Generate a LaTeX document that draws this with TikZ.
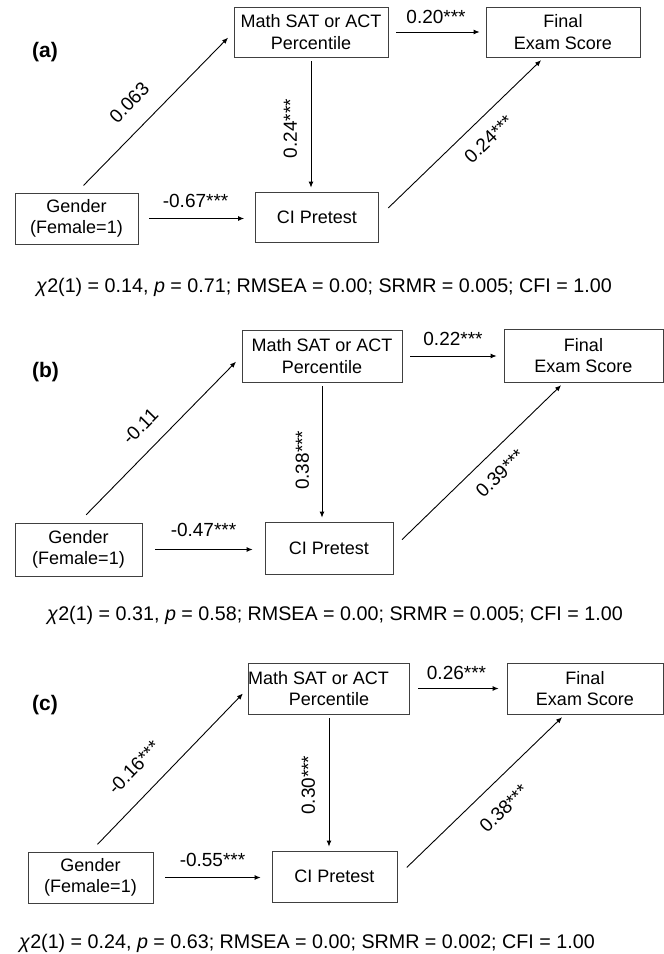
\documentclass[tikz,border=0pt]{standalone}
\usepackage{fontspec}
\setmainfont{Liberation Sans}
\usepackage{tikz}
\usetikzlibrary{arrows.meta,calc}

\begin{document}
\begin{tikzpicture}[
    x=1pt, y=-1pt,
    every node/.style={font=\fontsize{18}{21.6}\selectfont},
    var/.style={draw=black!75, line width=0.8pt, align=center, inner sep=0pt},
    link/.style={-{Latex[length=6pt,width=5pt]}, line width=0.9pt},
    coef/.style={inner sep=2pt, font=\fontsize{19}{22}\selectfont},
    panel/.style={font=\fontsize{21}{25}\selectfont\bfseries},
    fit/.style={font=\fontsize{19.7}{23}\selectfont},
]
    \useasboundingbox[fill=white] (0,0) rectangle (664,954);

    % Panel (a)
    \node[panel] (labA) at (45,52) {(a)};
    \node[var, minimum width=154pt, minimum height=50pt] (mathA) at (311,32) {Math SAT or ACT\\Percentile};
    \node[var, minimum width=154pt, minimum height=50pt] (finalA) at (563,32) {Final\\Exam Score};
    \node[var, minimum width=123pt, minimum height=51pt] (genderA) at (76.5,218.5) {Gender\\(Female=1)};
    \node[var, minimum width=123pt, minimum height=50pt] (pretestA) at (317,217) {CI Pretest};
    \node[fit] (fitA) at (324,287) {\textit{χ}2(1) = 0.14, \textit{p} = 0.71; RMSEA = 0.00; SRMR = 0.005; CFI = 1.00};

    \draw[link, shorten <=10pt, shorten >=8pt] (genderA.north) -- node[coef, sloped, above=16pt, pos=.45] {0.063} (mathA.west);
    \draw[link, shorten <=4pt, shorten >=4pt] (mathA.south) -- node[coef, rotate=90, anchor=south, outer ysep=12pt, pos=.53] {0.24***} (mathA.south |- pretestA.north);
    \draw[link, shorten <=8pt, shorten >=6pt] (mathA.east) -- node[coef, above=6pt, pos=.49] {0.20***} (finalA.west);
    \draw[link, shorten <=11pt, shorten >=11pt] (genderA.east) -- node[coef, above=8.5pt, pos=.49] {-0.67***} (genderA.east -| pretestA.west);
    \draw[link, shorten <=13pt, shorten >=4pt] (pretestA.east) -- node[coef, sloped, below=11pt, pos=.58] {0.24***} ($(finalA.south)+(-19,0)$);

    % Panel (b)
    \node[panel] (labB) at (45.5,372) {(b)};
    \node[var, minimum width=160pt, minimum height=52pt] (mathB) at (322,356) {Math SAT or ACT\\Percentile};
    \node[var, minimum width=159pt, minimum height=53pt] (finalB) at (583.5,355.5) {Final\\Exam Score};
    \node[var, minimum width=127pt, minimum height=53pt] (genderB) at (78.5,549.5) {Gender\\(Female=1)};
    \node[var, minimum width=128pt, minimum height=52pt] (pretestB) at (329,548) {CI Pretest};
    \node[fit] (fitB) at (335,615) {\textit{χ}2(1) = 0.31, \textit{p} = 0.58; RMSEA = 0.00; SRMR = 0.005; CFI = 1.00};

    \draw[link, shorten <=11pt, shorten >=8pt] (genderB.north) -- node[coef, sloped, above=14pt, pos=.48] {-0.11} (mathB.west);
    \draw[link, shorten <=4pt, shorten >=4pt] (mathB.south) -- node[coef, rotate=90, anchor=south, outer ysep=11pt, pos=.56] {0.38***} (mathB.south |- pretestB.north);
    \draw[link, shorten <=8pt, shorten >=7pt] (mathB.east) -- node[coef, above=8pt, pos=.5] {0.22***} (mathB.east -| finalB.west);
    \draw[link, shorten <=13pt, shorten >=12pt] (genderB.east) -- node[coef, above=10.5pt, pos=.5] {-0.47***} (genderB.east -| pretestB.west);
    \draw[link, shorten <=12pt, shorten >=4pt] (pretestB.east) -- node[coef, sloped, below=11.5pt, pos=.54] {0.39***} ($(finalB.south)+(-19.5,0)$);

    % Panel (c)
    \node[panel] (labC) at (45,705) {(c)};
    \node[var, minimum width=156pt, minimum height=51pt] (mathC) at (329,688.5) {Math SAT or ACT\hspace*{21pt}\\Percentile};
    \node[var, minimum width=156pt, minimum height=51pt] (finalC) at (585,688.5) {Final\\Exam Score};
    \node[var, minimum width=125pt, minimum height=51pt] (genderC) at (90.5,877.5) {Gender\\(Female=1)};
    \node[var, minimum width=125pt, minimum height=51pt] (pretestC) at (334.5,876.5) {CI Pretest};
    \node[fit] (fitC) at (307,943) {\textit{χ}2(1) = 0.24, \textit{p} = 0.63; RMSEA = 0.00; SRMR = 0.002; CFI = 1.00};

    \draw[link, shorten <=10pt, shorten >=7pt] (genderC.north) -- node[coef, sloped, above=18pt, pos=.40] {-0.16***} (mathC.west);
    \draw[link, shorten <=4pt, shorten >=4pt] (mathC.south) -- node[coef, rotate=90, anchor=south, outer ysep=12pt, pos=.52] {0.30***} (mathC.south |- pretestC.north);
    \draw[link, shorten <=8pt, shorten >=8pt] (mathC.east) -- node[coef, above=6.5pt, pos=.48] {0.26***} (finalC.west);
    \draw[link, shorten <=12pt, shorten >=11pt] (genderC.east) -- node[coef, above=8.5pt, pos=.5] {-0.55***} (genderC.east -| pretestC.west);
    \draw[link, shorten <=13pt, shorten >=4pt] (pretestC.east) -- node[coef, sloped, below=16pt, pos=.53] {0.38***} ($(finalC.south)+(-20,0)$);
\end{tikzpicture}
\end{document}
